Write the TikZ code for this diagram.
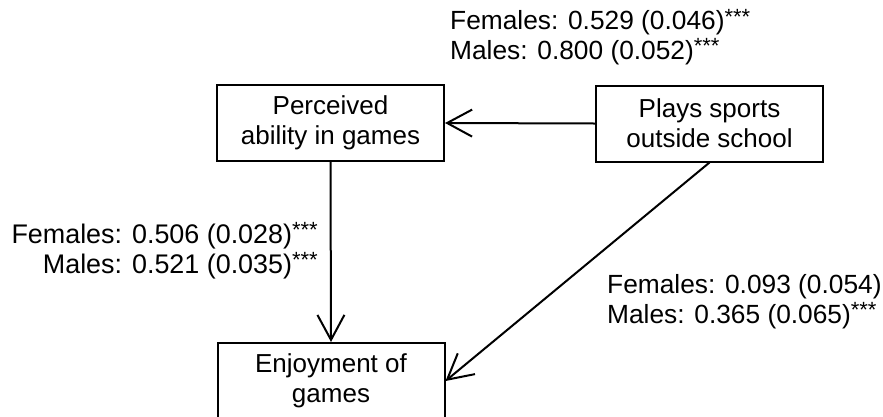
\documentclass[tikz,border=0pt]{standalone}
\usepackage{fontspec}
\setmainfont{Liberation Sans}
\usetikzlibrary{arrows.meta}

\tikzset{
  varbox/.style={draw, line width=2pt, minimum width=227pt, minimum height=76pt,
    align=center, inner sep=0pt, font=\fontsize{26}{30}\selectfont},
  lab/.style={inner sep=0pt, font=\fontsize{26.3}{29.5}\selectfont},
  path/.style={line width=2pt, -{Straight Barb[length=25pt, width=27pt, line width=2pt]}}
}
% significance stars, raised and set smaller
\newcommand{\sig}{\raisebox{0.22em}{\fontsize{22}{22}\selectfont ***}}

\begin{document}
\begin{tikzpicture}[x=1pt, y=-1pt]
  \useasboundingbox (0,0) rectangle (883,416);

  % variables
  \node[varbox] (perc)  at (330.5,123)   {Perceived\\ability in games};
  \node[varbox] (sport) at (709.5,123.5) {Plays sports\\outside school};
  \node[varbox] (enjoy) at (331,381)     {Enjoyment of\\games};

  % paths
  \draw[path] (sport.west)  -- (perc.east);
  \draw[path] (perc.south)  -- (enjoy.north);
  \draw[path] (sport.south) -- (enjoy.east);

  % coefficients (standard errors); anchored on the last line's baseline
  \node[lab, align=left, anchor=base west] (ctop) at (450,59.3)
    {Females: 0.529 (0.046)\sig\\Males: 0.800 (0.052)\sig};
  \node[lab, align=right, anchor=base east, font=\fontsize{26.9}{29.5}\selectfont] (cleft) at (318,273.3)
    {Females: 0.506 (0.028)\sig\\Males: 0.521 (0.035)\sig};
  \node[lab, align=left, anchor=base west] (cright) at (607,323.3)
    {Females: 0.093 (0.054)\\Males: 0.365 (0.065)\sig};
\end{tikzpicture}
\end{document}
